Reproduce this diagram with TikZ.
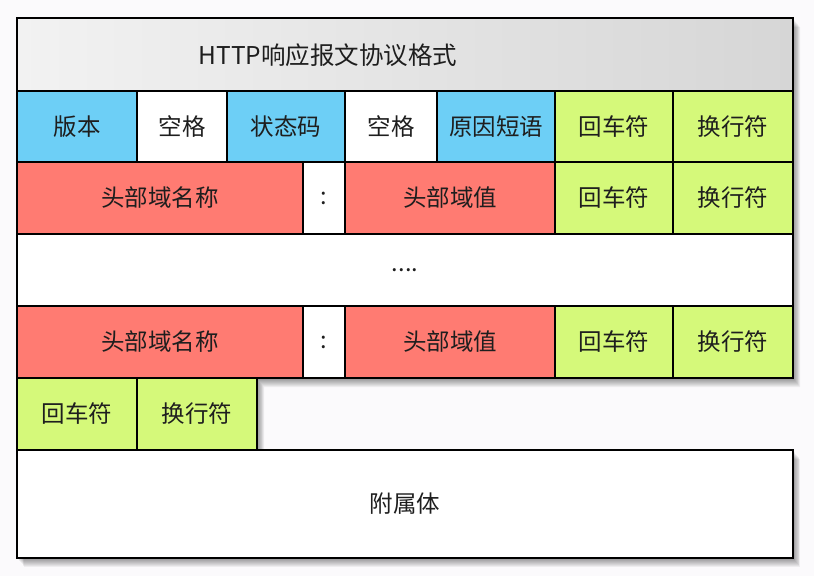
\documentclass[tikz,border=0pt]{standalone}
\usepackage{fontspec}
\setmainfont{Noto Sans CJK SC}
\definecolor{bg}{HTML}{FBFAFC}
\definecolor{cblue}{HTML}{6DCFF6}
\definecolor{cred}{HTML}{FF7B72}
\definecolor{cgreen}{HTML}{D5F97A}
\definecolor{ink}{HTML}{1E1E1E}
\definecolor{tlight}{HTML}{F2F2F2}
\definecolor{tdark}{HTML}{D6D6D6}
\tikzset{
  cellbox/.style={draw=black, line width=1.5pt, inner sep=0pt, outer sep=0pt,
    text=ink, font=\fontsize{23.5}{27}\selectfont},
  bluecell/.style={cellbox, fill=cblue},
  redcell/.style={cellbox, fill=cred},
  greencell/.style={cellbox, fill=cgreen},
  whitecell/.style={cellbox, fill=white},
  shadowlayer/.style={fill=black, opacity=0.05},
}
\begin{document}
\begin{tikzpicture}[x=1pt, y=-1pt]
\fill[bg] (0,0) rectangle (814,576);
\useasboundingbox (0,0) rectangle (814,576);
% shadows
\foreach \i in {1,...,9} {
  \fill[shadowlayer, shift={(\i*0.8,\i*1.0)}]
    (17,18) -- (793,18) -- (793,378) -- (257,378) -- (257,450) -- (17,450) -- cycle;
  \fill[shadowlayer, shift={(\i*0.8,\i*1.0)}] (17,450) rectangle (793,558);
}
% title
\node[cellbox, minimum width=776pt, minimum height=73pt, left color=tlight, right color=tdark] (title) at (405,54.5) {};
\node[text=ink, font=\fontsize{24.5}{28}\selectfont] (ttext) at (328,55) {HTTP响应报文协议格式};
% row 1
\node[bluecell, minimum width=120pt, minimum height=71pt] (ver) at (77,126.5) {版本};
\node[whitecell, minimum width=90pt, minimum height=71pt] (sp1) at (182,126.5) {空格};
\node[bluecell, minimum width=118pt, minimum height=71pt] (code) at (286,126.5) {状态码};
\node[whitecell, minimum width=92pt, minimum height=71pt] (sp2) at (391,126.5) {空格};
\node[bluecell, minimum width=118pt, minimum height=71pt] (reason) at (496,126.5) {原因短语};
\node[greencell, minimum width=118pt, minimum height=71pt] (cr1) at (614,126.5) {回车符};
\node[greencell, minimum width=120pt, minimum height=71pt] (lf1) at (733,126.5) {换行符};
% row 2
\node[redcell, minimum width=286pt, minimum height=72pt] (hn1) at (160,198) {头部域名称};
\node[whitecell, minimum width=42pt, minimum height=72pt] (co1) at (324,198) {:};
\node[redcell, minimum width=210pt, minimum height=72pt] (hv1) at (450,198) {头部域值};
\node[greencell, minimum width=118pt, minimum height=72pt] (cr2) at (614,198) {回车符};
\node[greencell, minimum width=120pt, minimum height=72pt] (lf2) at (733,198) {换行符};
% dots row
\node[whitecell, minimum width=776pt, minimum height=72pt] (dots) at (405,270) {....};
% row 4
\node[redcell, minimum width=286pt, minimum height=72pt] (hn2) at (160,342) {头部域名称};
\node[whitecell, minimum width=42pt, minimum height=72pt] (co2) at (324,342) {:};
\node[redcell, minimum width=210pt, minimum height=72pt] (hv2) at (450,342) {头部域值};
\node[greencell, minimum width=118pt, minimum height=72pt] (cr3) at (614,342) {回车符};
\node[greencell, minimum width=120pt, minimum height=72pt] (lf3) at (733,342) {换行符};
% row 5
\node[greencell, minimum width=120pt, minimum height=72pt] (cr4) at (77,414) {回车符};
\node[greencell, minimum width=120pt, minimum height=72pt] (lf4) at (197,414) {换行符};
% body
\node[whitecell, minimum width=776pt, minimum height=108pt] (body) at (405,504) {附属体};
\end{tikzpicture}
\end{document}
